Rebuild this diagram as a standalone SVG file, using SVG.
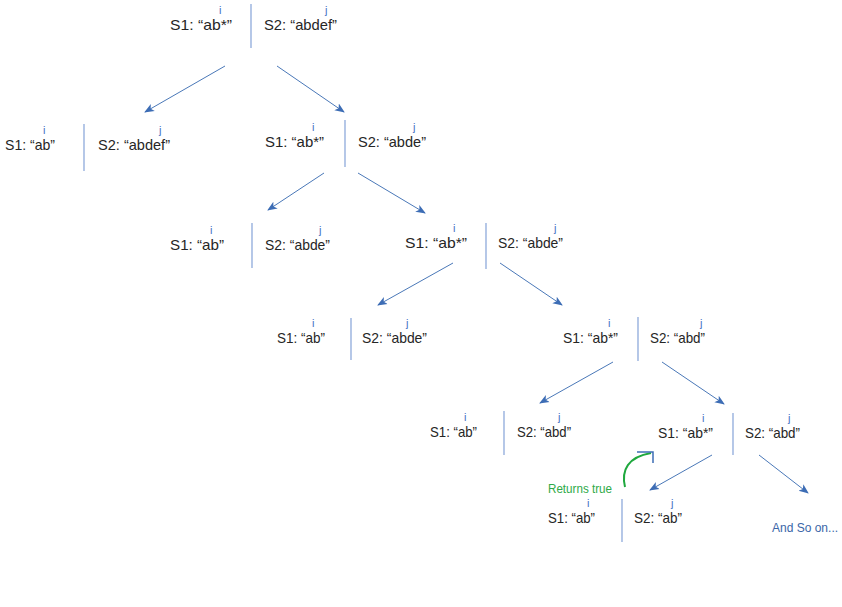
<svg xmlns="http://www.w3.org/2000/svg" width="842" height="607" viewBox="0 0 842 607">
<style>
.t{font-family:"Liberation Sans",Arial,sans-serif;font-size:15px;fill:#262626}
.p{font-family:"Liberation Sans",Arial,sans-serif;font-size:11px;fill:#4472c4}
.d{stroke:#8eaadb;stroke-width:1.3;fill:none}
.c{stroke:#4a78b8;stroke-width:1;fill:none;marker-end:url(#ah)}
</style>
<defs>
<marker id="ah" viewBox="0 0 10 10" refX="9" refY="5" markerWidth="10" markerHeight="10" markerUnits="userSpaceOnUse" orient="auto">
<path d="M0,1 L10,5 L0,9 L2.5,5 Z" fill="#3d6db5"/>
</marker>
</defs>
<rect width="842" height="607" fill="#ffffff"/>
<g id="n0">
<text class="t" x="170" y="30" textLength="62" lengthAdjust="spacingAndGlyphs">S1: “ab*”</text><text class="p" x="219" y="14">i</text>
<line class="d" x1="251" y1="4" x2="251" y2="48"/>
<text class="t" x="264" y="30" textLength="73" lengthAdjust="spacingAndGlyphs">S2: “abdef”</text><text class="p" x="325" y="14">j</text>
</g>
<g id="n1">
<text class="t" x="5" y="150" textLength="50" lengthAdjust="spacingAndGlyphs">S1: “ab”</text><text class="p" x="43" y="134">i</text>
<line class="d" x1="84" y1="124" x2="84" y2="171"/>
<text class="t" x="98" y="150" textLength="72" lengthAdjust="spacingAndGlyphs">S2: “abdef”</text><text class="p" x="159" y="134">j</text>
</g>
<g id="n2">
<text class="t" x="265" y="147" textLength="59" lengthAdjust="spacingAndGlyphs">S1: “ab*”</text><text class="p" x="312" y="131">i</text>
<line class="d" x1="345" y1="120" x2="345" y2="167"/>
<text class="t" x="358" y="147" textLength="68" lengthAdjust="spacingAndGlyphs">S2: “abde”</text><text class="p" x="413" y="131">j</text>
</g>
<g id="n3">
<text class="t" x="170" y="250" textLength="54" lengthAdjust="spacingAndGlyphs">S1: “ab”</text><text class="p" x="210" y="234">i</text>
<line class="d" x1="252" y1="223" x2="252" y2="268"/>
<text class="t" x="265" y="250" textLength="65" lengthAdjust="spacingAndGlyphs">S2: “abde”</text><text class="p" x="319" y="234">j</text>
</g>
<g id="n4">
<text class="t" x="405" y="248" textLength="62" lengthAdjust="spacingAndGlyphs">S1: “ab*”</text><text class="p" x="453" y="232">i</text>
<line class="d" x1="486" y1="223" x2="486" y2="269"/>
<text class="t" x="498" y="248" textLength="65" lengthAdjust="spacingAndGlyphs">S2: “abde”</text><text class="p" x="554" y="232">j</text>
</g>
<g id="n5">
<text class="t" x="277" y="343" textLength="48" lengthAdjust="spacingAndGlyphs">S1: “ab”</text><text class="p" x="312" y="327">i</text>
<line class="d" x1="351" y1="318" x2="351" y2="360"/>
<text class="t" x="362" y="343" textLength="65" lengthAdjust="spacingAndGlyphs">S2: “abde”</text><text class="p" x="406" y="327">j</text>
</g>
<g id="n6">
<text class="t" x="563" y="343" textLength="55" lengthAdjust="spacingAndGlyphs">S1: “ab*”</text><text class="p" x="608" y="327">i</text>
<line class="d" x1="638" y1="317" x2="638" y2="361"/>
<text class="t" x="650" y="343" textLength="55" lengthAdjust="spacingAndGlyphs">S2: “abd”</text><text class="p" x="700" y="327">j</text>
</g>
<g id="n7">
<text class="t" x="430" y="437" textLength="47" lengthAdjust="spacingAndGlyphs">S1: “ab”</text><text class="p" x="464" y="421">i</text>
<line class="d" x1="504" y1="411" x2="504" y2="455"/>
<text class="t" x="517" y="437" textLength="54" lengthAdjust="spacingAndGlyphs">S2: “abd”</text><text class="p" x="558" y="421">j</text>
</g>
<g id="n8">
<text class="t" x="658" y="438" textLength="55" lengthAdjust="spacingAndGlyphs">S1: “ab*”</text><text class="p" x="702" y="422">i</text>
<line class="d" x1="733" y1="413" x2="733" y2="455"/>
<text class="t" x="745" y="438" textLength="55" lengthAdjust="spacingAndGlyphs">S2: “abd”</text><text class="p" x="788" y="422">j</text>
</g>
<g id="n9">
<text class="t" x="548" y="523" textLength="47" lengthAdjust="spacingAndGlyphs">S1: “ab”</text><text class="p" x="587" y="507">i</text>
<line class="d" x1="622" y1="499" x2="622" y2="542"/>
<text class="t" x="634" y="523" textLength="48" lengthAdjust="spacingAndGlyphs">S2: “ab”</text><text class="p" x="671" y="507">j</text>
</g>
<g id="more">
<text x="772" y="532" style="font-family:'Liberation Sans',Arial,sans-serif;font-size:12px;fill:#3b66a8">And So on...</text>
</g>
<g id="returns">
<text x="548" y="493" style="font-family:'Liberation Sans',Arial,sans-serif;font-size:13px;fill:#2eaa48" textLength="64" lengthAdjust="spacingAndGlyphs">Returns true</text>
<path d="M625,487 C621,470 628,457 651,453" stroke="#1fa83e" stroke-width="2" fill="none"/>
<path d="M637,452 L653,452 L653,463" stroke="#3d6db5" stroke-width="1.5" fill="none"/>
</g>
<g id="connectors">
<line class="c" x1="225" y1="66" x2="145" y2="112"/>
<line class="c" x1="277" y1="66" x2="344" y2="112"/>
<line class="c" x1="324" y1="173" x2="268" y2="210"/>
<line class="c" x1="358" y1="173" x2="425" y2="213"/>
<line class="c" x1="453" y1="263" x2="378" y2="305"/>
<line class="c" x1="500" y1="263" x2="562" y2="305"/>
<line class="c" x1="613" y1="362" x2="540" y2="403"/>
<line class="c" x1="662" y1="362" x2="724" y2="404"/>
<line class="c" x1="712" y1="455" x2="650" y2="490"/>
<line class="c" x1="759" y1="455" x2="808" y2="493"/>
</g>
</svg>
